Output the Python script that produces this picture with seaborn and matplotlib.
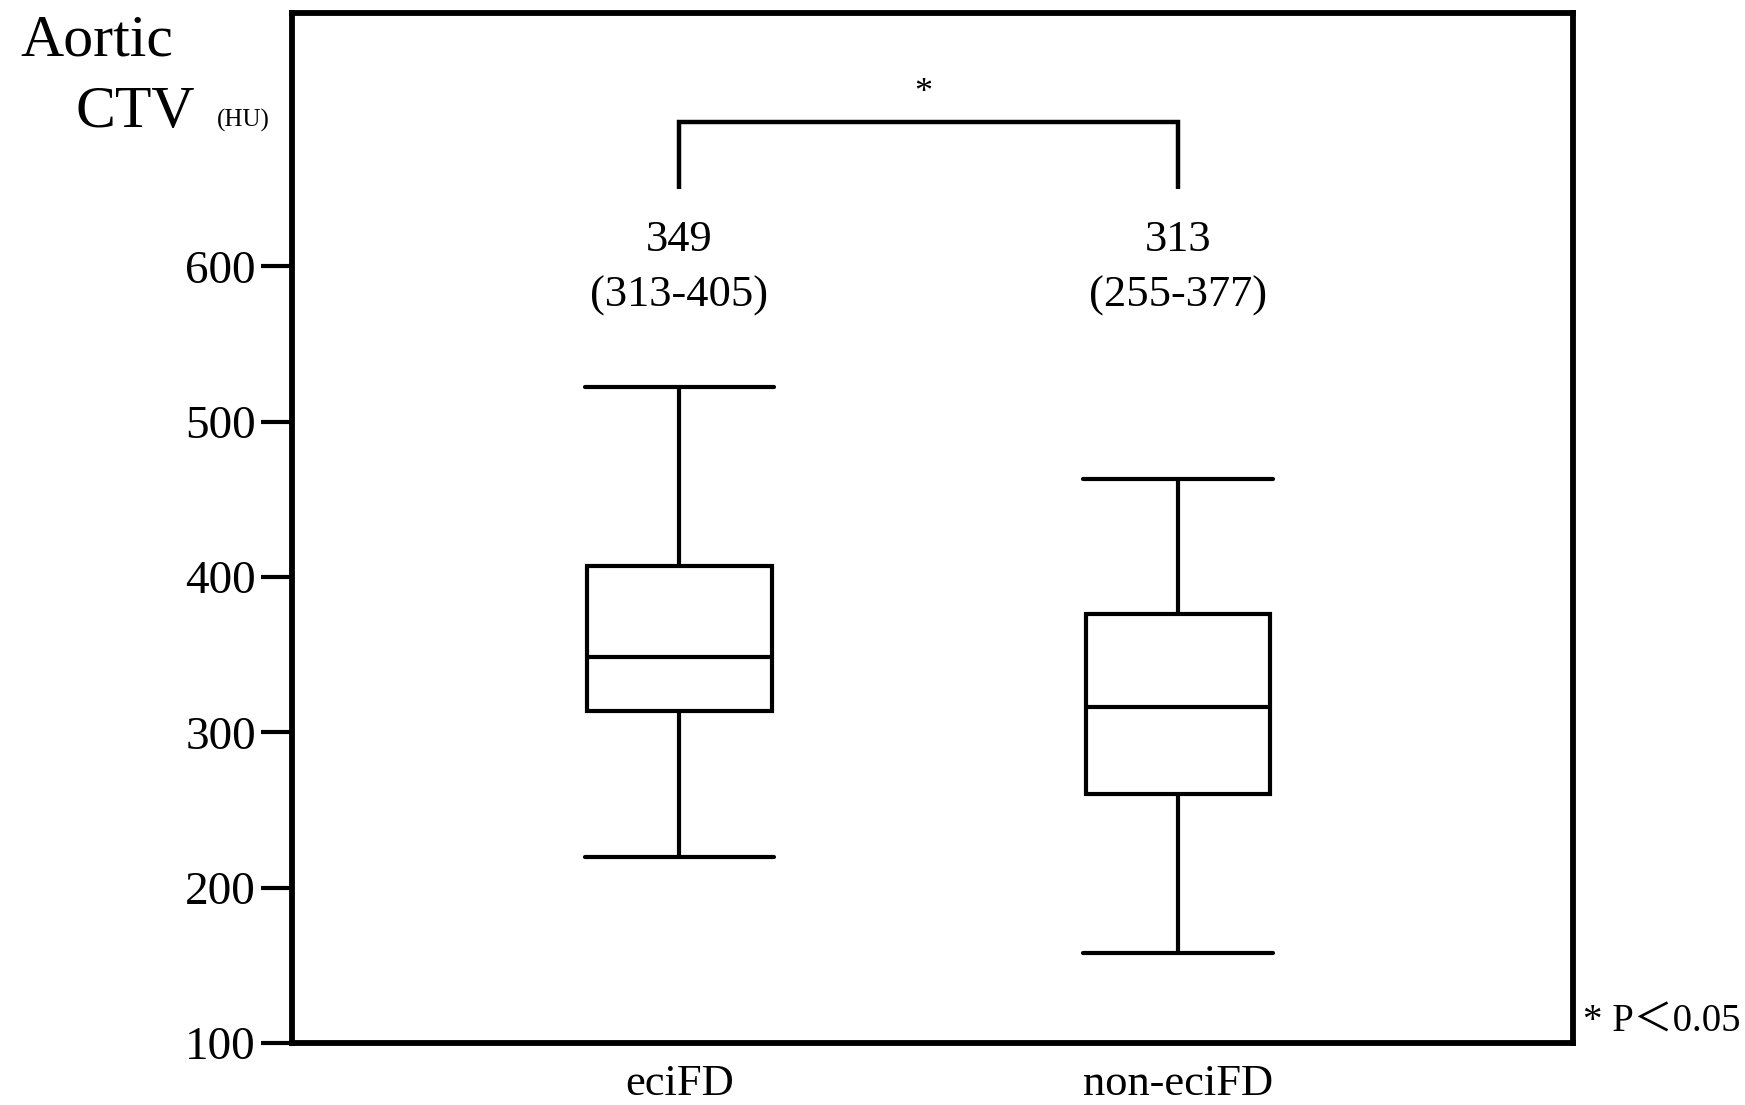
import numpy as np
import pandas as pd
import matplotlib
matplotlib.use("Agg")
import matplotlib.pyplot as plt
import seaborn as sns

# ---- data ----
groups = ["eciFD", "non-eciFD"]
whisker_low = [220, 158]
q1 = [313.6, 260]
median = [348.6, 316]
q3 = [407, 376]
whisker_high = [522, 463]
annot_median = ["349", "313"]
annot_iqr = ["(313-405)", "(255-377)"]
yticks = [100, 200, 300, 400, 500, 600]

rows = []
for g, a, b, c, d, e in zip(groups, whisker_low, q1, median, q3, whisker_high):
    for v in (a, b, c, d, e):
        rows.append({"group": g, "value": v})
df = pd.DataFrame(rows)

sns.set_theme(style="white")
plt.rcParams["font.family"] = ["Liberation Serif", "Noto Sans CJK JP", "DejaVu Sans"]
plt.rcParams["text.color"] = "black"
plt.rcParams["ytick.labelcolor"] = "black"
plt.rcParams["ytick.color"] = "black"

fig = plt.figure(figsize=(17.45, 11.05), dpi=100)
ax = fig.add_axes([0.1673, 0.0561, 0.9014 - 0.1673, 0.9882 - 0.0561])

lw = 3.0
line_kws = dict(color="black", linewidth=lw)
sns.boxplot(data=df, x="group", y="value", order=groups, ax=ax, width=0.37,
            whis=(0, 100), showfliers=False,
            boxprops=dict(facecolor="white", edgecolor="black", linewidth=lw),
            medianprops=line_kws, whiskerprops=line_kws, capprops=line_kws,
            capwidths=0.38)

ax.set_xlim(-0.777, 1.792)
ax.set_ylim(100, 763)
ax.set_yticks(yticks)
ax.set_yticklabels([str(t) for t in yticks], fontsize=34, color="black")
ax.tick_params(axis="y", direction="out", length=22, width=3.0, color="black",
               pad=4, left=True)
ax.tick_params(axis="x", bottom=False, labelbottom=False)
ax.set_xlabel("")
ax.set_ylabel("")
for s in ax.spines.values():
    s.set_visible(True)
    s.set_color("black")
    s.set_linewidth(4.2)

# category labels under the axis
for i, g in enumerate(groups):
    ax.text(i, -0.02, g, transform=ax.get_xaxis_transform(), ha="center",
            va="top", fontsize=32, color="black")

# medians / IQR annotations
for i in range(len(groups)):
    ax.text(i, 617, annot_median[i], ha="center", va="center", fontsize=32,
            color="black")
    ax.text(i, 581, annot_iqr[i], ha="center", va="center", fontsize=32,
            color="black")

# significance bracket
ax.plot([0, 0, 1, 1], [650, 693, 693, 650], color="black", linewidth=3.2,
        solid_capstyle="butt", solid_joinstyle="miter")
ax.text(0.49, 711, "*", ha="center", va="center", fontsize=26, color="black")

# axis title pieces
fig.text(20 / 1745, 1 - 41 / 1105, "Aortic", ha="left", va="center",
         fontsize=43, color="black")
fig.text(76 / 1745, 1 - 113 / 1105, "CTV", ha="left", va="center",
         fontsize=43, color="black")
fig.text(217 / 1745, 1 - 120 / 1105, "(HU)", ha="left", va="center",
         fontsize=18, color="black")

# footnote
fig.text(1583 / 1745, 1 - 1022 / 1105, "* P＜0.05", ha="left", va="center",
         fontsize=28, color="black")

fig.savefig("out.png", dpi=100, facecolor="white")
